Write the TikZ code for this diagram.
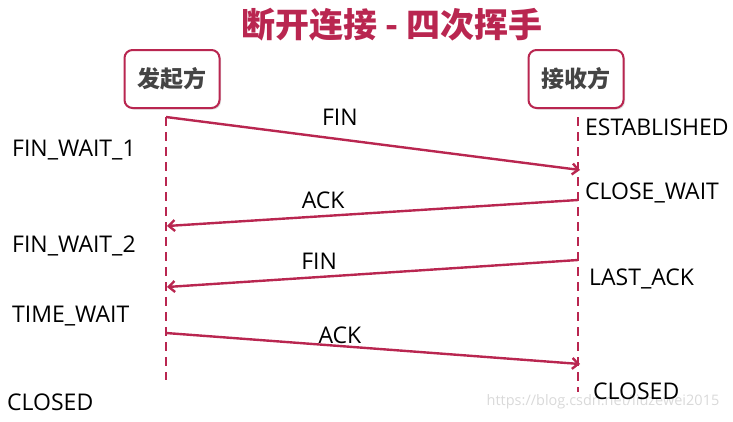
\documentclass[tikz,border=0pt]{standalone}
\usepackage{fontspec}
\setmainfont{Open Sans}
\newfontfamily\cjkfont{Noto Sans CJK SC}
\usetikzlibrary{positioning,arrows.meta,shadows}
\definecolor{crimson}{RGB}{185,38,80}
\definecolor{boxtext}{RGB}{68,68,68}

\begin{document}
\begin{tikzpicture}[
	x=1pt, y=-1pt,
	party/.style={rectangle, rounded corners=8pt, draw=crimson, line width=2pt, fill=white, minimum width=95pt, minimum height=58pt, text=boxtext, font=\cjkfont\bfseries\fontsize{23}{26}\selectfont, drop shadow={shadow xshift=1.5pt, shadow yshift=-1.5pt, opacity=0.25}},
	lifeline/.style={draw=crimson, line width=2.4pt, dash pattern=on 9pt off 6pt},
	msg/.style={draw=crimson, line width=2.4pt, -{Straight Barb[length=6pt, width=11pt]}},
	msglabel/.style={font=\fontsize{23}{26}\selectfont, inner sep=0pt},
	state/.style={font=\fontsize{23}{26}\selectfont, inner sep=0pt, anchor=base west}
]
\useasboundingbox (0,0) rectangle (733,421);

% watermark, behind everything
\node (mark) at (603,402) [text=black!15, font=\fontsize{14.5}{16}\selectfont] {https://blog.csdn.net/liuzewei2015};

% title
\node (title) at (392,25) [text=crimson, font=\cjkfont\bfseries\fontsize{34}{38}\selectfont] {断开连接 - 四次挥手};

% the two parties
\node (sender) [party] at (172,79) {发起方};
\node (receiver) [party] at (576,79) {接收方};

% lifelines
\coordinate (sTop) at (166,117);
\coordinate (sBot) at (166,380);
\coordinate (rTop) at (578,117);
\coordinate (rBot) at (578,392);
\draw [lifeline] (sTop) -- (sBot);
\draw [lifeline] (rTop) -- (rBot);

% message ends
\coordinate (s1) at (166,117);
\coordinate (r1) at (580,170);
\coordinate (r2) at (578,200);
\coordinate (s2) at (167,226);
\coordinate (r3) at (578,260);
\coordinate (s3) at (167,287);
\coordinate (s4) at (166,333);
\coordinate (r4) at (580,364);

\draw [msg] (s1) -- node[msglabel, pos=0.42, yshift=22pt] (fin1) {FIN} (r1);
\draw [msg] (r2) -- node[msglabel, pos=0.62, yshift=16pt] (ack1) {ACK} (s2);
\draw [msg] (r3) -- node[msglabel, pos=0.63, yshift=16pt] (fin2) {FIN} (s3);
\draw [msg] (s4) -- node[msglabel, pos=0.42, yshift=11pt] (ack2) {ACK} (r4);

% states of the sender
\node (finwait1) [state] at (12,156) {FIN\_WAIT\_1};
\node (finwait2) [state] at (12,252) {FIN\_WAIT\_2};
\node (timewait) [state] at (12,322) {TIME\_WAIT};
\node (sclosed) [state] at (7,410) {CLOSED};

% states of the receiver
\node (established) [state] at (585,135) {ESTABLISHED};
\node (closewait) [state] at (585,199) {CLOSE\_WAIT};
\node (lastack) [state] at (589,285) {LAST\_ACK};
\node (rclosed) [state] at (593,399) {CLOSED};
\end{tikzpicture}
\end{document}
